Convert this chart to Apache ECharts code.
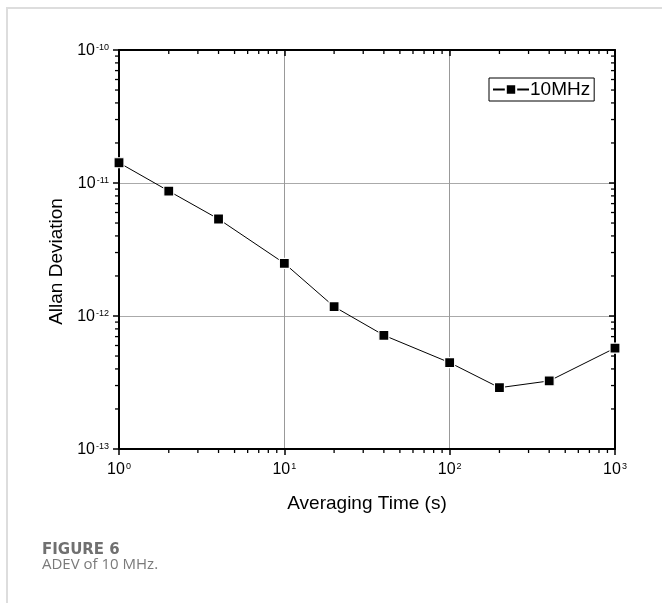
<!DOCTYPE html>
<html>
<head>
<meta charset="utf-8">
<script src="https://cdn.jsdelivr.net/npm/echarts@6/dist/echarts.min.js"></script>
<style>
  html, body { margin: 0; padding: 0; background: #fff; }
  #frame { position: absolute; left: 6px; top: 7px; width: 660px; height: 600px;
           border-top: 2px solid #dddddd; border-left: 2px solid #dddddd; }
  #chart { position: absolute; left: 0; top: 0; width: 662px; height: 603px; }
</style>
</head>
<body>
<div id="frame"></div>
<div id="chart"></div>
<script>
// ---- data ----
const seriesName = '10MHz';
const tauValues = [1, 2, 4, 10, 20, 40, 100, 200, 400, 1000];
const adevValues = [1.42e-11, 8.7e-12, 5.36e-12, 2.49e-12, 1.175e-12, 7.16e-13, 4.46e-13, 2.89e-13, 3.25e-13, 5.74e-13];
const xRange = [1, 1000];
const yRange = [1e-13, 1e-10];
const xMinorTicks = [2, 3, 4, 5, 6, 7, 8, 9, 20, 30, 40, 50, 60, 70, 80, 90, 200, 300, 400, 500, 600, 700, 800, 900];
const yMinorTicks = [2e-13, 3e-13, 4e-13, 5e-13, 6e-13, 7e-13, 8e-13, 9e-13,
                     2e-12, 3e-12, 4e-12, 5e-12, 6e-12, 7e-12, 8e-12, 9e-12,
                     2e-11, 3e-11, 4e-11, 5e-11, 6e-11, 7e-11, 8e-11, 9e-11];
const xAxisTitle = 'Averaging Time (s)';
const yAxisTitle = 'Allan Deviation';
const captionTitle = 'FIGURE 6';
const captionText = 'ADEV of 10 MHz.';

// ---- chart ----
const FONT = 'Liberation Sans, Arial, sans-serif';
const chart = echarts.init(document.getElementById('chart'), null, { renderer: 'canvas' });

function powLabel(v) {
  const e = Math.round(Math.log10(v));
  return '{b|10}{s|' + e + '}';
}
const richLabel = {
  b: { fontFamily: FONT, fontSize: 16, color: '#000', lineHeight: 18, verticalAlign: 'bottom' },
  s: { fontFamily: FONT, fontSize: 9, color: '#000', lineHeight: 18, verticalAlign: 'bottom', padding: [0, 0, 7, 1] }
};

const minorLen = 4;
function xMinorRender(params, api) {
  const v = api.value(0);
  const b = api.coord([v, yRange[0]]);
  const t = api.coord([v, yRange[1]]);
  const st = { stroke: '#000', lineWidth: 1.3 };
  return { type: 'group', children: [
    { type: 'line', shape: { x1: b[0], y1: b[1], x2: b[0], y2: b[1] + minorLen }, style: st },
    { type: 'line', shape: { x1: t[0], y1: t[1], x2: t[0], y2: t[1] + minorLen }, style: st }
  ]};
}
function yMinorRender(params, api) {
  const v = api.value(1);
  const l = api.coord([xRange[0], v]);
  const r = api.coord([xRange[1], v]);
  const st = { stroke: '#000', lineWidth: 1.3 };
  return { type: 'group', children: [
    { type: 'line', shape: { x1: l[0], y1: l[1], x2: l[0] - minorLen, y2: l[1] }, style: st },
    { type: 'line', shape: { x1: r[0], y1: r[1], x2: r[0] - minorLen, y2: r[1] }, style: st }
  ]};
}

const axisLineStyle = { color: '#000', width: 2 };

const option = {
  animation: false,
  backgroundColor: 'transparent',
  title: [
    { text: captionTitle, left: 37, top: 538,
      textStyle: { fontFamily: 'DejaVu Sans, sans-serif', fontSize: 15, fontWeight: 'bold', color: '#707070' } },
    { text: captionText, left: 37, top: 552,
      textStyle: { fontFamily: 'Open Sans, sans-serif', fontSize: 15, fontWeight: 'normal', color: '#7a7a7a' } }
  ],
  grid: { left: 119, right: 47, top: 50, bottom: 154, containLabel: false },
  legend: {
    data: [seriesName],
    left: 489, top: 78,
    orient: 'vertical',
    borderColor: '#000', borderWidth: 1, borderRadius: 0,
    padding: [2, 4, 2, 3],
    itemWidth: 36, itemHeight: 13,
    itemGap: 0,
    textStyle: { fontFamily: FONT, fontSize: 19, color: '#000', padding: [0, 0, 0, -4] }
  },
  xAxis: [
    {
      type: 'log', logBase: 10, min: xRange[0], max: xRange[1], position: 'bottom',
      name: xAxisTitle, nameLocation: 'middle', nameGap: 45,
      nameTextStyle: { fontFamily: FONT, fontSize: 19, color: '#000' },
      axisLine: { show: true, lineStyle: axisLineStyle },
      axisTick: { show: true, inside: false, length: 6, lineStyle: { color: '#000', width: 1.5 } },
      minorTick: { show: false },
      axisLabel: { show: true, margin: 11, formatter: powLabel, rich: richLabel, showMinLabel: true, showMaxLabel: true },
      splitLine: { show: true, lineStyle: { color: '#999', width: 1 } }
    },
    {
      type: 'log', logBase: 10, min: xRange[0], max: xRange[1], position: 'top',
      axisLine: { show: true, lineStyle: axisLineStyle },
      axisTick: { show: true, inside: true, length: 6, lineStyle: { color: '#000', width: 1.5 } },
      axisLabel: { show: false }, splitLine: { show: false }
    }
  ],
  yAxis: [
    {
      type: 'log', logBase: 10, min: yRange[0], max: yRange[1], position: 'left',
      name: yAxisTitle, nameLocation: 'middle', nameGap: 52, nameRotate: 90,
      nameTextStyle: { fontFamily: FONT, fontSize: 19, color: '#000', padding: [0, 24, 0, 0] },
      axisLine: { show: true, lineStyle: axisLineStyle },
      axisTick: { show: true, inside: false, length: 6, lineStyle: { color: '#000', width: 1.5 } },
      minorTick: { show: false },
      axisLabel: { show: true, margin: 10, formatter: powLabel, rich: richLabel, showMinLabel: true, showMaxLabel: true },
      splitLine: { show: true, lineStyle: { color: '#aaa', width: 1 } }
    },
    {
      type: 'log', logBase: 10, min: yRange[0], max: yRange[1], position: 'right',
      axisLine: { show: true, lineStyle: axisLineStyle },
      axisTick: { show: true, inside: true, length: 6, lineStyle: { color: '#000', width: 1.5 } },
      axisLabel: { show: false }, splitLine: { show: false }
    }
  ],
  series: [
    {
      name: seriesName,
      type: 'line',
      xAxisIndex: 0, yAxisIndex: 0,
      data: tauValues.map((t, i) => [t, adevValues[i]]),
      symbol: 'rect', symbolSize: 10,
      showAllSymbol: true,
      clip: true,
      lineStyle: { color: '#000', width: 1 },
      itemStyle: { color: '#000', borderColor: '#fff', borderWidth: 1.2 },
      z: 3
    },
    {
      type: 'custom', name: 'xminor', xAxisIndex: 0, yAxisIndex: 0,
      silent: true, clip: false, z: 6,
      data: xMinorTicks.map(v => [v, yRange[0]]),
      renderItem: xMinorRender
    },
    {
      type: 'custom', name: 'yminor', xAxisIndex: 0, yAxisIndex: 0,
      silent: true, clip: false, z: 6,
      data: yMinorTicks.map(v => [xRange[0], v]),
      renderItem: yMinorRender
    }
  ]
};
chart.setOption(option);
</script>
</body>
</html>
